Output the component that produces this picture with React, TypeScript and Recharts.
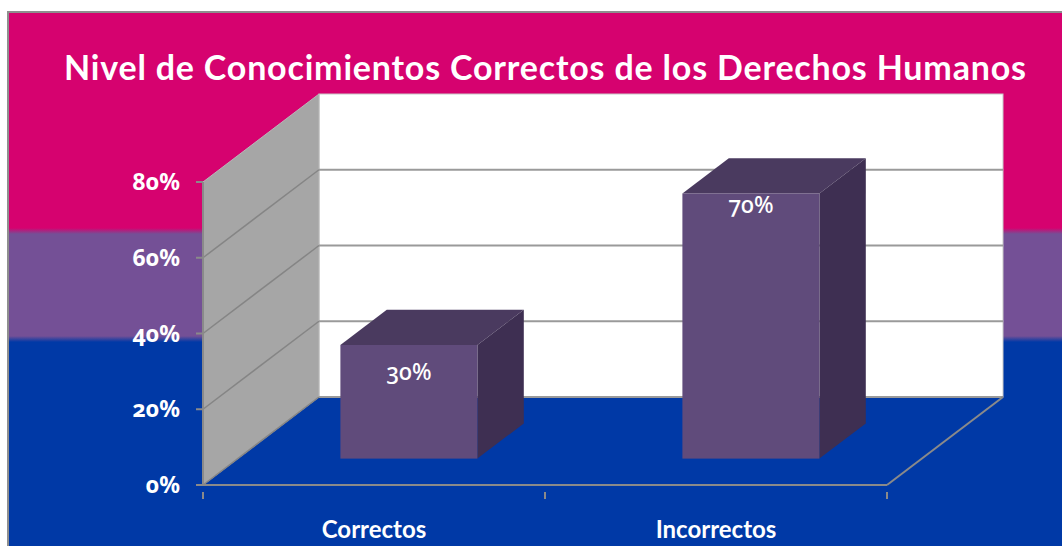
import React from 'react';
import { BarChart, Bar, XAxis, YAxis, CartesianGrid, LabelList } from 'recharts';

// ---------- data ----------
const title = 'Nivel de Conocimientos Correctos de los Derechos Humanos';
const categories = ['Correctos', 'Incorrectos'];
const values = [0.3, 0.7];
const yTicks = [0, 0.2, 0.4, 0.6, 0.8];

const data = categories.map((name, i) => ({ name, value: values[i] }));

// ---------- style constants ----------
const W = 1062;
const H = 546;
const DEPTH_X = 116;
const DEPTH_Y = -88;
const BAR_START = 0.3;
const BAR_DEPTH = 0.4;
const labelBaselineOffsets = [35, 20];
const FONT = 'Lato, "Open Sans", sans-serif';
const NUM_FONT = '"Noto Sans", Lato, sans-serif';
const GRID = '#9a9a9a';
const pct = (v: number) => `${Math.round(v * 100)}%`;

const gridLine = (props: any) => {
  const { x1, y1, x2, index, x, y, width, height } = props;
  const els: React.ReactNode[] = [];
  const isTop = Math.abs(y1 - y) < 0.5;
  const isBottom = Math.abs(y1 - (y + height)) < 0.5;
  if (index === 0) {
    const bx = x + DEPTH_X;
    const by = y + DEPTH_Y;
    els.push(
      <rect key="back" x={bx} y={by} width={width} height={height} fill="#ffffff" stroke="#c8c8c8" strokeWidth={1} />
    );
    els.push(
      <polygon
        key="side"
        points={`${x},${y} ${bx},${by} ${bx},${by + height} ${x},${y + height}`}
        fill="#a6a6a6"
        stroke="#b8b8b8"
        strokeWidth={1}
      />
    );
  }
  if (!isTop) {
    els.push(
      <line key="diag" x1={x1} y1={y1} x2={x1 + DEPTH_X} y2={y1 + DEPTH_Y} stroke="#858585" strokeWidth={1.5} />
    );
    els.push(
      <line
        key="back"
        x1={x1 + DEPTH_X}
        y1={y1 + DEPTH_Y}
        x2={x2 + DEPTH_X}
        y2={y1 + DEPTH_Y}
        stroke={GRID}
        strokeWidth={2}
      />
    );
  }
  if (isBottom) {
    els.push(
      <line key="rdiag" x1={x2} y1={y1} x2={x2 + DEPTH_X} y2={y1 + DEPTH_Y} stroke="#8a8a8a" strokeWidth={2} />
    );
  }
  return <g key={`gl-${index}`}>{els}</g>;
};

const Box3D = (props: any) => {
  const { x, y, width, height } = props;
  const fx = x + DEPTH_X * BAR_START;
  const fy = y + DEPTH_Y * BAR_START;
  const dx = DEPTH_X * BAR_DEPTH;
  const dy = DEPTH_Y * BAR_DEPTH;
  return (
    <g>
      <polygon
        points={`${fx},${fy} ${fx + width},${fy} ${fx + width + dx},${fy + dy} ${fx + dx},${fy + dy}`}
        fill="#4a3a5f"
      />
      <polygon
        points={`${fx + width},${fy} ${fx + width + dx},${fy + dy} ${fx + width + dx},${fy + dy + height} ${fx + width},${fy + height}`}
        fill="#3e2f52"
      />
      <rect x={fx} y={fy} width={width} height={height} fill="#604b7b" />
    </g>
  );
};

const BarLabel = (props: any) => {
  const { x, y, width, value, index } = props;
  const cx = x + DEPTH_X * BAR_START + width / 2;
  const ty = y + DEPTH_Y * BAR_START + labelBaselineOffsets[index];
  return (
    <text
      x={cx}
      y={ty}
      textAnchor="middle"
      fill="#ffffff"
      fontFamily={NUM_FONT}
      fontSize={23}
      fontWeight={500}
      style={{ fontVariantNumeric: 'oldstyle-nums' }}
    >
      {pct(value)}
    </text>
  );
};

const CatTick = (props: any) => {
  const { x, y, payload, index, visibleTicksCount, width } = props;
  const band = width / visibleTicksCount;
  const lx = x - band / 2;
  return (
    <g>
      <line x1={lx} y1={y - 1} x2={lx} y2={y + 6} stroke="#8a8a8a" strokeWidth={2} />
      {index === visibleTicksCount - 1 && (
        <line x1={x + band / 2} y1={y - 1} x2={x + band / 2} y2={y + 6} stroke="#8a8a8a" strokeWidth={2} />
      )}
      <text
        x={x}
        y={y + 45}
        textAnchor="middle"
        fill="#ffffff"
        fontFamily={FONT}
        fontSize={24}
        fontWeight={700}
      >
        {payload.value}
      </text>
    </g>
  );
};

export default function App() {
  return (
    <div style={{ position: 'absolute', left: 0, top: 0, width: W, height: H, overflow: 'hidden', background: '#ffffff' }}>
      <div
        style={{
          position: 'absolute',
          left: 7,
          top: 11,
          right: 0,
          bottom: 0,
          borderLeft: '2px solid #8f8f8f',
          borderTop: '2px solid #8f8f8f',
          background:
            'linear-gradient(to bottom, #d6026f 0px, #d6026f 215px, #745096 221px, #745096 323px, #0039a6 329px, #0039a6 100%)',
        }}
      />
      <svg width={W} height={100} style={{ position: 'absolute', left: 0, top: 0 }}>
        <text
          x={545}
          y={80}
          textAnchor="middle"
          fill="#ffffff"
          fontFamily={FONT}
          fontSize={34}
          fontWeight={700}
          textLength={962}
          lengthAdjust="spacing"
        >
          {title}
        </text>
      </svg>
      <div style={{ position: 'absolute', left: 0, top: 0 }}>
        <BarChart
          width={W}
          height={H}
          data={data}
          margin={{ top: 182, right: 175, bottom: 0, left: 0 }}
          barCategoryGap="30%"
        >
          <CartesianGrid horizontal={gridLine} vertical={false} />
          <XAxis
            dataKey="name"
            height={61}
            axisLine={{ stroke: '#8a8a8a', strokeWidth: 2 }}
            tickLine={false}
            tick={<CatTick />}
            interval={0}
          />
          <YAxis
            width={203}
            domain={[0, 0.8]}
            ticks={yTicks}
            tickFormatter={pct}
            axisLine={{ stroke: '#8a8a8a', strokeWidth: 2 }}
            tickLine={{ stroke: '#8a8a8a', strokeWidth: 2 }}
            tickSize={7}
            tickMargin={16}
            tick={{
              fill: '#ffffff',
              fontFamily: NUM_FONT,
              fontSize: 23,
              fontWeight: 700,
              style: { fontVariantNumeric: 'oldstyle-nums' },
            }}
          />
          <Bar dataKey="value" shape={<Box3D />} isAnimationActive={false}>
            <LabelList dataKey="value" content={<BarLabel />} />
          </Bar>
        </BarChart>
      </div>
    </div>
  );
}
